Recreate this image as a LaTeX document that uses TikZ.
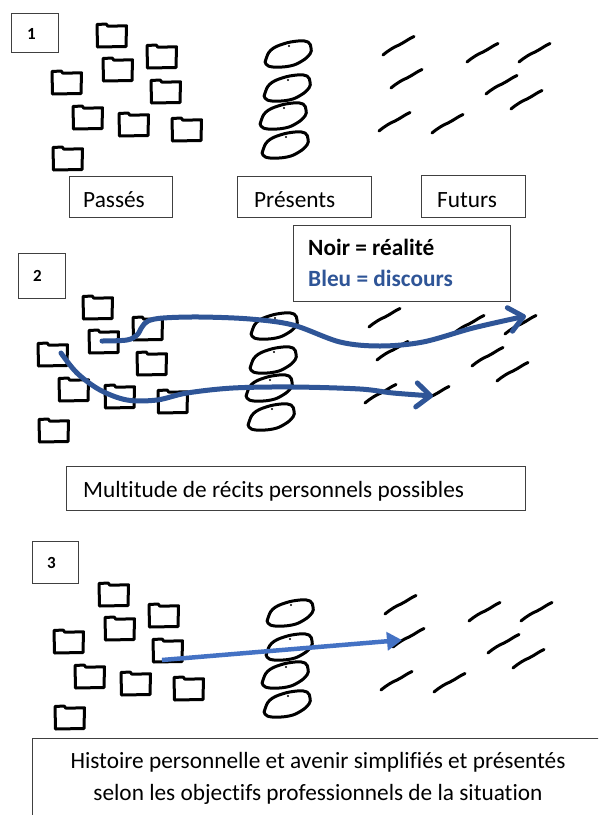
\documentclass[tikz,border=0pt]{standalone}
\usepackage{fontspec}
\setmainfont{Carlito}[Ligatures=NoCommon]
\usetikzlibrary{arrows.meta}
\definecolor{discours}{HTML}{2F5597}
\definecolor{simple}{HTML}{4472C4}
\definecolor{cadre}{HTML}{404040}
\tikzset{
  ink/.style={line width=3pt, line cap=round, line join=round},
  boxframe/.style={draw=cadre, line width=1.2pt, inner sep=0pt, anchor=north west},
  lbl/.style={font=\fontsize{23.3}{27}\selectfont, inner sep=0pt, anchor=base west},
  boldlbl/.style={font=\fontsize{23.3}{27}\selectfont\bfseries, inner sep=0pt, anchor=base west},
  numlbl/.style={font=\fontsize{17}{19}\selectfont\bfseries, inner sep=0pt},
  pics/folder/.style={code={
    \draw[ink] (0.5,23) -- (0,0.5) -- (9,0) -- (11,2.2) -- (29.5,1.8) -- (29,22.5) -- cycle;}},
  pics/potato/.style={code={
    \draw[ink] plot[smooth cycle, tension=0.7] coordinates
      {(-23,5) (-18,-4) (-6,-10) (9,-13) (19,-12) (22,-6) (21,0) (13,7) (1,12) (-16,13) (-23,10)};
    \fill (0,-8) circle (1.1);}},
  pics/futur/.style={code={
    \draw[ink] (0,0) .. controls (6,-5) and (11,-8) .. (16,-10) .. controls (22,-13) and (27,-17) .. (31,-18.5);}},
  pics/scene/.style={code={
    \foreach \p in {(97,24),(147,45),(103,58),(52,71),(151,80),(73,106),(119,113),(172,118),(53,147)}
      \pic at \p {folder};
    \foreach \p in {(289,54),(288,88),(284,116),(286,145)}
      \pic at \p {potato};
    \foreach \p in {(383,55),(467,62),(519,62),(391,88),(486,94),(511,109),(379,131),(432,133)}
      \pic at \p {futur};
  }},
  discoursline/.style={draw=discours, line width=5pt, line cap=round,
    -{Straight Barb[length=14pt,width=24pt,round]}},
  simpleline/.style={draw=simple, line width=4.5pt, -{Triangle[length=15pt,width=18pt]}}
}
\begin{document}
\begin{tikzpicture}[x=1pt,y=-1pt]
\clip (0,0) rectangle (598,815);
\fill[white] (0,0) rectangle (598,815);

% ---------- Section 1
\pic at (0,0) {scene};
\node[boxframe, minimum width=47pt, minimum height=39pt] (b1) at (11,13) {};
\node[numlbl] (n1) at (31.5,34) {1};
\node[boxframe, minimum width=103pt, minimum height=41pt] (bpasses) at (69,176) {};
\node[lbl] (tpasses) at (83,207) {Passés};
\node[boxframe, minimum width=134pt, minimum height=41pt] (bpresents) at (237,176) {};
\node[lbl] (tpresents) at (254,207) {Présents};
\node[boxframe, minimum width=104pt, minimum height=42pt] (bfuturs) at (421,175) {};
\node[lbl] (tfuturs) at (437,207) {Futurs};

% ---------- Section 2
\pic at (-14,272) {scene};
\node[boxframe, minimum width=47pt, minimum height=45pt] (b2) at (18,253) {};
\node[numlbl] (n2) at (37.5,276) {2};
\node[boxframe, minimum width=217pt, minimum height=76pt] (blegende) at (293,225) {};
\node[boldlbl] (tnoir) at (308,255) {Noir = réalité};
\node[boldlbl, text=discours] (tbleu) at (308,286) {Bleu = discours};
\draw[discoursline] plot[smooth, tension=0.55] coordinates
  {(102,341) (127,340) (137,335) (142,327) (148,321) (163,318) (200,317) (250,319) (293,325) (340,342) (380,346) (423,342) (473,328) (526,316)};
\draw[discoursline] plot[smooth, tension=0.55] coordinates
  {(61,353) (77,373) (100,390) (127,400) (157,400) (187,393) (233,388) (293,387) (360,389) (393,393) (433,396)};
\node[boxframe, minimum width=459pt, minimum height=44pt] (bmulti) at (66,466) {};
\node[lbl] (tmulti) at (83,497) {Multitude de récits personnels possibles};

% ---------- Section 3
\pic at (2,559) {scene};
\node[boxframe, minimum width=46pt, minimum height=42pt] (b3) at (32,541) {};
\node[numlbl] (n3) at (51.5,563) {3};
\coordinate (s3a) at (162,660);
\coordinate (s3b) at (402,640);
\draw[simpleline] (s3a) -- (s3b);
\node[boxframe, minimum width=600pt, minimum height=120pt] (bhist) at (32,738) {};
\node[font=\fontsize{23.3}{27}\selectfont, inner sep=0pt, anchor=base] (th1) at (318,768)
  {Histoire personnelle et avenir simplifiés et présentés};
\node[font=\fontsize{23.3}{27}\selectfont, inner sep=0pt, anchor=base] (th2) at (318,800)
  {selon les objectifs professionnels de la situation};
\end{tikzpicture}
\end{document}
